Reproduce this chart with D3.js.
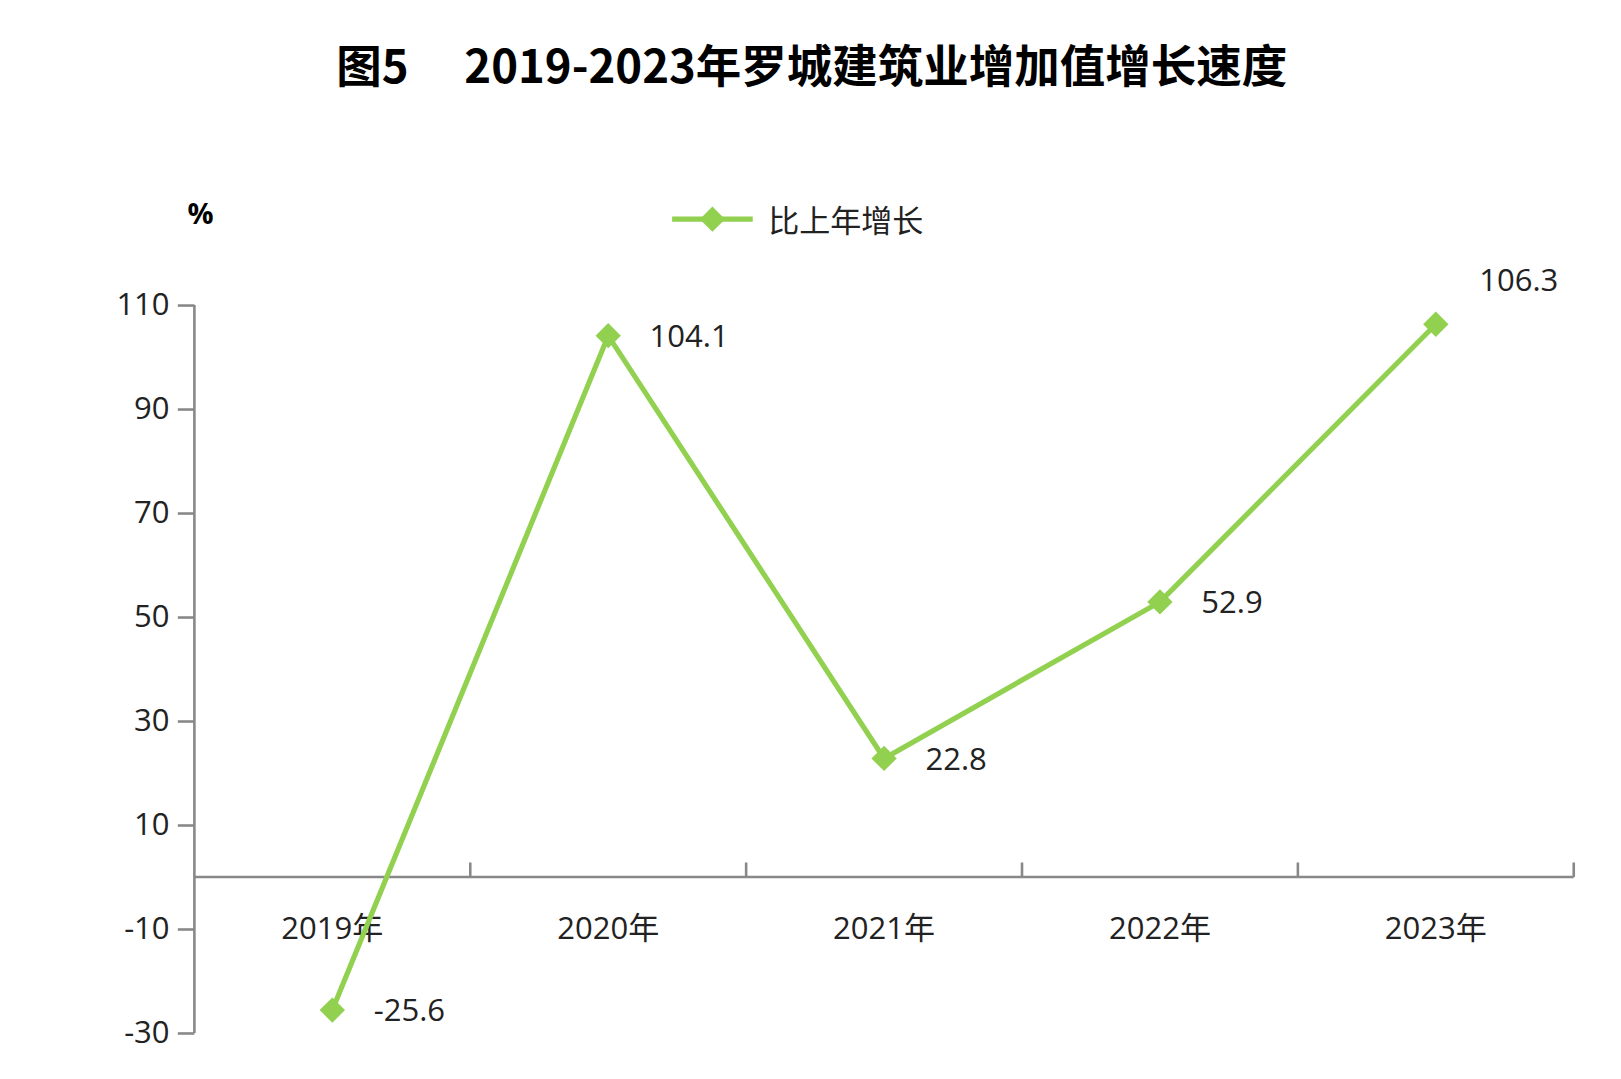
<!DOCTYPE html>
<html><head><meta charset="utf-8">
<script src="https://cdn.jsdelivr.net/npm/d3@7"></script>
<style>body{margin:0;background:#fff}text{font-family:"Open Sans","Noto Sans CJK SC",sans-serif}</style>
</head><body><svg id="c" width="1621" height="1079"></svg>
<script>
const categories=["2019年","2020年","2021年","2022年","2023年"];
const values=[-25.6,104.1,22.8,52.9,106.3];
const yTicks=[-30,-10,10,30,50,70,90,110];
const seriesName="比上年增长";
const k=1.034;
const svg=d3.select("#c");
const g=svg.append("g").attr("transform",`scale(${k})`);
const x=d3.scaleBand().domain(categories).range([188,1522]);
const y=d3.scaleLinear().domain([-30,110]).range([999,295]);
const green="#92d050";
g.append("text").attr("x",785).attr("y",80).attr("text-anchor","middle")
 .style("font-family","'Noto Sans CJK SC'").style("font-weight","bold").style("font-size","44px")
 .attr("xml:space","preserve").style("white-space","pre")
 .text("图5\u2003 2019-2023年罗城建筑业增加值增长速度");
g.append("text").attr("x",194).attr("y",217).attr("text-anchor","middle").style("font-size","28px").style("font-weight","bold").text("%");
const ya=g.append("g").attr("transform","translate(188,0)").call(d3.axisLeft(y).tickValues(yTicks).tickSize(16).tickSizeOuter(0).tickFormat(d=>String(d)));
ya.select(".domain").attr("stroke","#888").attr("stroke-width",2.5).attr("d",`M0,${y(-30)}V${y(110)}`);
ya.selectAll(".tick line").attr("stroke","#888").attr("stroke-width",2.5);
ya.selectAll(".tick text").attr("x",-24).style("font-size","30px").style("font-family","'Open Sans'").attr("fill","#222");
const xg=g.append("g").attr("transform",`translate(0,${y(0)})`);
xg.append("line").attr("x1",188).attr("x2",1522).attr("stroke","#888").attr("stroke-width",2.5);
const bounds=categories.map(c=>x(c)+x.bandwidth());
xg.selectAll("line.t").data(bounds).join("line").attr("x1",d=>d).attr("x2",d=>d).attr("y1",0).attr("y2",-14).attr("stroke","#888").attr("stroke-width",2.5);
g.selectAll("text.xl").data(categories).join("text").attr("x",d=>x(d)+x.bandwidth()/2).attr("y",y(0)+60)
 .attr("text-anchor","middle").style("font-size","30px").attr("fill","#222").text(d=>d);
const cx=i=>x(categories[i])+x.bandwidth()/2;
g.append("path").datum(values).attr("fill","none").attr("stroke",green).attr("stroke-width",5)
 .attr("d",d3.line().x((d,i)=>cx(i)).y(d=>y(d)));
const sym=d3.symbol().type(d3.symbolSquare).size(300);
g.selectAll("path.m").data(values).join("path").attr("d",sym).attr("fill",green)
 .attr("transform",(d,i)=>`translate(${cx(i)},${y(d)}) rotate(45)`);
g.selectAll("text.dl").data(values).join("text")
 .attr("x",(d,i)=>i===4?cx(i)+42:cx(i)+40).attr("y",(d,i)=>i===4?y(d)-32:y(d)+11)
 .style("font-size","30px").attr("fill","#222").text(d=>d.toFixed(1));
g.append("line").attr("x1",650).attr("x2",728).attr("y1",212).attr("y2",212).attr("stroke",green).attr("stroke-width",5);
g.append("path").attr("d",sym).attr("fill",green).attr("transform","translate(689,212) rotate(45)");
g.append("text").attr("x",743).attr("y",224).style("font-size","30px").style("font-family","'Noto Sans CJK SC'").attr("fill","#222").text(seriesName);
</script></body></html>
